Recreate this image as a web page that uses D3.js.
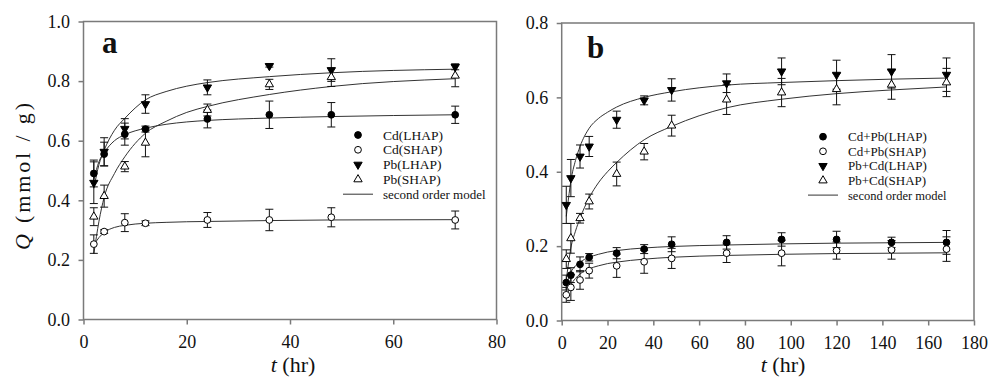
<!DOCTYPE html>
<html>
<head>
<meta charset="utf-8">
<script src="https://d3js.org/d3.v7.min.js"></script>
<style>
	body { margin: 0; background: #fff; }
	svg text { font-family: "Liberation Serif", "Times New Roman", serif; fill: #111; }
</style>
</head>
<body>
<div id="chart"></div>
<script type="text/javascript">
// ---- panel a : single metal ----
var tA = [2, 4, 8, 12, 24, 36, 48, 72];
var cdLhapA = [0.49, 0.555, 0.622, 0.639, 0.673, 0.687, 0.687, 0.687];
var cdLhapErrA = [0.045, 0.04, 0.037, 0.01, 0.03, 0.046, 0.041, 0.029];
var cdShapA = [0.253, 0.295, 0.325, 0.323, 0.334, 0.334, 0.343, 0.334];
var cdShapErrA = [0.031, 0.006, 0.03, 0.008, 0.025, 0.036, 0.032, 0.03];
var pbLhapA = [0.459, 0.563, 0.64, 0.723, 0.779, 0.851, 0.837, 0.848];
var pbLhapErrA = [0.07, 0.047, 0.034, 0.031, 0.025, 0.004, 0.038, 0.01];
var pbShapA = [0.345, 0.414, 0.513, 0.593, 0.703, 0.789, 0.813, 0.818];
var pbShapErrA = [0.03, 0.037, 0.017, 0.047, 0.02, 0.017, 0.031, 0.037];

// model curves
var fitTA = [2, 3, 4, 6, 8, 12, 16, 20, 24, 36, 48, 72];
var fitCdLhapA = [0.47, 0.53, 0.56, 0.60, 0.62, 0.642, 0.655, 0.663, 0.668, 0.676, 0.681, 0.687];
var fitCdShapA = [0.25, 0.275, 0.292, 0.309, 0.316, 0.323, 0.326, 0.328, 0.329, 0.332, 0.334, 0.335];
var fitPbLhapA = [0.44, 0.52, 0.568, 0.635, 0.675, 0.737, 0.765, 0.783, 0.795, 0.815, 0.828, 0.84];
var fitPbShapA = [0.22, 0.33, 0.41, 0.49, 0.546, 0.625, 0.665, 0.695, 0.715, 0.755, 0.782, 0.808];

var legendA = ["Cd(LHAP)", "Cd(SHAP)", "Pb(LHAP)", "Pb(SHAP)", "second order model"];
var xTicksA = [0, 20, 40, 60, 80];
var yTicksA = [0.0, 0.2, 0.4, 0.6, 0.8, 1.0];

// ---- panel b : binary system ----
var tB = [2, 4, 8, 12, 24, 36, 48, 72, 96, 120, 144, 168];
var cdPbLhapB = [0.102, 0.122, 0.151, 0.17, 0.181, 0.192, 0.205, 0.21, 0.218, 0.218, 0.21, 0.21];
var cdPbLhapErrB = [0.02, 0.02, 0.02, 0.01, 0.015, 0.012, 0.02, 0.018, 0.018, 0.022, 0.014, 0.032];
var cdPbShapB = [0.069, 0.089, 0.109, 0.134, 0.147, 0.158, 0.167, 0.181, 0.181, 0.188, 0.19, 0.192];
var cdPbShapErrB = [0.02, 0.035, 0.025, 0.02, 0.031, 0.031, 0.027, 0.025, 0.034, 0.023, 0.025, 0.033];
var pbCdLhapB = [0.311, 0.383, 0.441, 0.468, 0.54, 0.592, 0.62, 0.638, 0.67, 0.661, 0.67, 0.661];
var pbCdLhapErrB = [0.05, 0.05, 0.031, 0.027, 0.023, 0.012, 0.03, 0.025, 0.036, 0.039, 0.045, 0.045];
var pbCdShapB = [0.165, 0.221, 0.275, 0.32, 0.394, 0.454, 0.524, 0.594, 0.613, 0.622, 0.634, 0.64];
var pbCdShapErrB = [0.025, 0.04, 0.013, 0.02, 0.032, 0.022, 0.028, 0.04, 0.038, 0.042, 0.039, 0.038];

var fitTB = [2, 3, 4, 6, 8, 12, 16, 20, 24, 36, 48, 72, 96, 120, 144, 168];
var fitCdPbLhapB = [0.095, 0.115, 0.13, 0.147, 0.157, 0.17, 0.178, 0.184, 0.188, 0.195, 0.199, 0.203, 0.206, 0.208, 0.209, 0.21];
var fitCdPbShapB = [0.06, 0.08, 0.095, 0.113, 0.125, 0.139, 0.147, 0.153, 0.157, 0.165, 0.17, 0.175, 0.178, 0.18, 0.181, 0.182];
var fitPbCdLhapB = [0.28, 0.33, 0.375, 0.43, 0.468, 0.517, 0.543, 0.56, 0.574, 0.60, 0.615, 0.633, 0.64, 0.645, 0.649, 0.652];
var fitPbCdShapB = [0.11, 0.155, 0.195, 0.24, 0.275, 0.33, 0.37, 0.40, 0.425, 0.486, 0.522, 0.572, 0.595, 0.61, 0.62, 0.628];

var legendB = ["Cd+Pb(LHAP)", "Cd+Pb(SHAP)", "Pb+Cd(LHAP)", "Pb+Cd(SHAP)", "second order model"];
var xTicksB = [0, 20, 40, 60, 80, 100, 120, 140, 160, 180];
var yTicksB = [0.0, 0.2, 0.4, 0.6, 0.8];

var markers = ["dot", "circle", "down", "up"];
var serif = "'Liberation Serif', 'Times New Roman', serif";

var svg = d3.select("#chart").append("svg")
	.attr("width", 990)
	.attr("height", 384);

function pts(t, v, e) {
	return t.map(function(d, i) { return {t: d, v: v[i], e: e ? e[i] : 0}; });
}

function markerPath(kind) {
	if (kind == "dot" || kind == "circle") return d3.symbol().type(d3.symbolCircle).size(36)();
	return d3.symbol().type(d3.symbolTriangle).size(30)();
}

function addMarker(g, kind, x, y) {
	var filled = (kind == "dot" || kind == "down");
	g.append("path")
		.attr("d", markerPath(kind))
		.attr("transform", "translate(" + x + "," + y + ")" + (kind == "down" ? " rotate(180)" : ""))
		.attr("fill", filled ? "#000" : "#fff")
		.attr("stroke", "#000")
		.attr("stroke-width", 1);
}

function drawPanel(p) {
	var g = svg.append("g");
	var x = d3.scaleLinear().domain(p.xDomain).range([p.left, p.right]);
	var y = d3.scaleLinear().domain(p.yDomain).range([p.bottom, p.top]);

	// frame
	g.append("rect")
		.attr("x", p.left).attr("y", p.top)
		.attr("width", p.right - p.left).attr("height", p.bottom - p.top)
		.attr("fill", "none").attr("stroke", "#7a7a7a").attr("stroke-width", 1.5);

	var xa = g.append("g").attr("transform", "translate(0," + p.bottom + ")")
		.call(d3.axisBottom(x).tickValues(p.xTicks).tickSize(5).tickPadding(11).tickFormat(d3.format("d")));
	var ya = g.append("g").attr("transform", "translate(" + p.left + ",0)")
		.call(d3.axisLeft(y).tickValues(p.yTicks).tickSize(5).tickPadding(8.5).tickFormat(d3.format(".1f")));
	[xa, ya].forEach(function(a) {
		a.attr("font-family", serif);
		a.select(".domain").remove();
		a.selectAll(".tick line").attr("stroke", "#7a7a7a").attr("stroke-width", 1.5);
		a.selectAll(".tick text").attr("font-size", 18).attr("font-family", serif).attr("fill", "#111");
	});

	// model curves
	var line = d3.line().x(function(d) { return x(d.t); }).y(function(d) { return y(d.v); }).curve(d3.curveMonotoneX);
	p.fits.forEach(function(f) {
		g.append("path").datum(pts(p.fitT, f))
			.attr("d", line)
			.attr("fill", "none").attr("stroke", "#333").attr("stroke-width", 1);
	});

	// error bars
	p.series.forEach(function(s) {
		var d = pts(p.t, s.v, s.e);
		var eb = g.append("g").attr("stroke", "#111").attr("stroke-width", 1);
		eb.selectAll("line.v").data(d).enter().append("line")
			.attr("x1", function(d) { return x(d.t); }).attr("x2", function(d) { return x(d.t); })
			.attr("y1", function(d) { return y(d.v - d.e); }).attr("y2", function(d) { return y(d.v + d.e); });
		[-1, 1].forEach(function(sg) {
			eb.selectAll("line.c" + sg).data(d).enter().append("line")
				.attr("x1", function(d) { return x(d.t) - 4; }).attr("x2", function(d) { return x(d.t) + 4; })
				.attr("y1", function(d) { return y(d.v + sg * d.e); }).attr("y2", function(d) { return y(d.v + sg * d.e); });
		});
	});

	// markers
	p.series.forEach(function(s, k) {
		pts(p.t, s.v).forEach(function(d) { addMarker(g, markers[k], x(d.t), y(d.v)); });
	});

	// legend
	p.legend.forEach(function(name, i) {
		var ly = p.legY + i * p.legStep;
		if (i < 4) addMarker(g, markers[i], p.legX, ly);
		else g.append("line").attr("x1", p.legX - 15).attr("x2", p.legX + 15)
			.attr("y1", ly).attr("y2", ly).attr("stroke", "#333").attr("stroke-width", 1);
		g.append("text").attr("x", p.legX + 25).attr("y", ly + 4.5)
			.attr("font-family", serif)
			.attr("font-size", i < 4 ? p.legFont : p.legFont - 0.5).text(name);
	});

	g.append("text").attr("x", p.lblX).attr("y", p.lblY)
		.attr("font-family", serif)
		.attr("font-size", 31).attr("font-weight", "bold").text(p.label);

	var xt = g.append("text").attr("x", p.titleX).attr("y", 372)
		.attr("font-family", serif)
		.attr("text-anchor", "middle").attr("font-size", 22);
	xt.append("tspan").attr("font-style", "italic").text("t");
	xt.append("tspan").text(" (hr)");
}

drawPanel({
	left: 83.5, right: 496.5, top: 21.5, bottom: 319.5,
	xDomain: [0, 80], yDomain: [0, 1.0], xTicks: xTicksA, yTicks: yTicksA,
	t: tA,
	series: [{v: cdLhapA, e: cdLhapErrA}, {v: cdShapA, e: cdShapErrA}, {v: pbLhapA, e: pbLhapErrA}, {v: pbShapA, e: pbShapErrA}],
	fitT: fitTA, fits: [fitCdLhapA, fitCdShapA, fitPbLhapA, fitPbShapA],
	legend: legendA, legX: 358, legY: 135, legStep: 14.8, legFont: 13.5,
	label: "a", lblX: 102, lblY: 53, titleX: 293
});

drawPanel({
	left: 561.7, right: 974, top: 23, bottom: 320.5,
	xDomain: [0, 180], yDomain: [0, 0.8], xTicks: xTicksB, yTicks: yTicksB,
	t: tB,
	series: [{v: cdPbLhapB, e: cdPbLhapErrB}, {v: cdPbShapB, e: cdPbShapErrB}, {v: pbCdLhapB, e: pbCdLhapErrB}, {v: pbCdShapB, e: pbCdShapErrB}],
	fitT: fitTB, fits: [fitCdPbLhapB, fitCdPbShapB, fitPbCdLhapB, fitPbCdShapB],
	legend: legendB, legX: 823, legY: 136.7, legStep: 14.6, legFont: 13,
	label: "b", lblX: 587, lblY: 58, titleX: 783
});

// y axis title (only on panel a)
var yt = svg.append("text")
	.attr("transform", "translate(30,176.5) rotate(-90)")
	.attr("font-family", serif)
	.attr("text-anchor", "middle").attr("font-size", 22)
	.attr("textLength", 147).attr("lengthAdjust", "spacing");
yt.append("tspan").attr("font-style", "italic").text("Q");
yt.append("tspan").text(" (mmol / g)");
</script>
</body>
</html>
